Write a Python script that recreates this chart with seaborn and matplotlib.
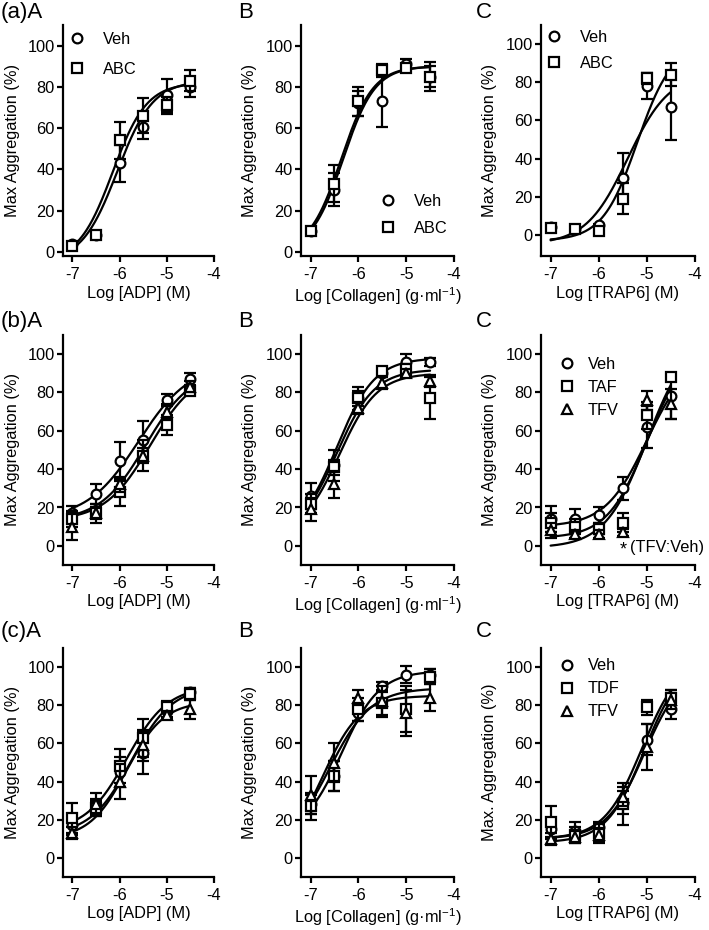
import numpy as np
import pandas as pd
import matplotlib
matplotlib.use("Agg")
import matplotlib.pyplot as plt
import seaborn as sns
from matplotlib.lines import Line2D

sns.set_theme(style="ticks")
plt.rcParams['font.family'] = ['Liberation Sans', 'DejaVu Sans']
plt.rcParams['axes.unicode_minus'] = False
plt.rcParams['mathtext.fontset'] = 'custom'
plt.rcParams['mathtext.rm'] = 'Liberation Sans'
plt.rcParams['mathtext.it'] = 'Liberation Sans'
plt.rcParams['text.color'] = 'black'
plt.rcParams['axes.labelcolor'] = 'black'
plt.rcParams['xtick.color'] = 'black'
plt.rcParams['ytick.color'] = 'black'

# ---------------- data ----------------
log_conc = [-7, -6.5, -6, -5.5, -5, -4.5]
x_ticks = [-7, -6, -5, -4]
y_ticks = [0, 20, 40, 60, 80, 100]

# fit parameters: (bottom, top, logEC50, hill)
# Row (a)
aA_veh = [4, 8, 43, 60.5, 76, 80];     aA_veh_err = [1, 1, 9, 6, 8, 5]
aA_abc = [3, 8, 54, 66, 71, 83];       aA_abc_err = [1, 1, 9, 8.5, 4, 5]
aA_fit_veh = (-5, 83, -6.05, 1.15);    aA_fit_abc = (-5, 82, -6.15, 1.2)

aB_veh = [10, 30, 72, 73, 91, 85];     aB_veh_err = [1, 8, 6, 12.5, 2.5, 5]
aB_abc = [10, 33, 73, 88, 89, 85];     aB_abc_err = [1, 9, 7, 3, 2, 7]
aB_fit_veh = (0, 90, -6.32, 1.3);      aB_fit_abc = (0, 90, -6.36, 1.3)

aC_veh = [4, 3, 5, 30, 78, 67];        aC_veh_err = [1, 1, 1, 13, 7, 17]
aC_abc = [3.5, 3, 2, 19, 82, 84];      aC_abc_err = [1, 1, 1, 8, 3, 6]
aC_fit_veh = (-5, 85, -5.4, 1.0);      aC_fit_abc = (-3, 100, -5.2, 1.2)

# Row (b)
bA_veh = [17, 27, 44, 55, 76, 87];     bA_veh_err = [4, 5, 10, 10, 3, 3]
bA_taf = [14, 17, 28, 47, 63, 81];     bA_taf_err = [4, 5, 7, 8, 5, 2]
bA_tfv = [10, 17, 32, 47, 70, 83];     bA_tfv_err = [7, 3, 4, 4, 4, 3]
bA_fit_veh = (14, 95, -5.6, 0.8)
bA_fit_taf = (13, 92, -5.35, 0.9)
bA_fit_tfv = (13, 92, -5.45, 0.9)

bB_veh = [26, 42, 77, 90, 96, 96];     bB_veh_err = [7, 8, 6, 2, 4, 2]
bB_taf = [22, 41, 77, 91, 92, 77];     bB_taf_err = [5, 4, 4, 2, 3, 11]
bB_tfv = [19, 32, 72, 85, 90, 86];     bB_tfv_err = [6, 7, 3, 3, 2, 3]
bB_fit_veh = (5, 98, -6.45, 1.1)
bB_fit_taf = (5, 92, -6.45, 1.1)
bB_fit_tfv = (5, 90, -6.4, 1.1)

bC_veh = [14, 14, 16, 30, 62, 78];     bC_veh_err = [7, 5, 4, 6, 11, 12]
bC_taf = [12, 10, 9, 12, 68, 88];      bC_taf_err = [5, 4, 3, 5, 7, 2]
bC_tfv = [8, 6, 6, 7, 76, 74];         bC_tfv_err = [4, 2, 2, 2, 5, 8]
bC_fit_veh = (10, 100, -5.0, 1.0)
bC_fit_taf = (4, 105, -5.0, 1.05)
bC_fit_tfv = (-1, 111, -5.0, 1.0)

# Row (c)
cA_veh = [17, 27, 45, 55, 77, 87];     cA_veh_err = [5, 4, 8, 11, 3, 2]
cA_tdf = [21, 26, 48, 63, 79, 86];     cA_tdf_err = [8, 4, 9, 10, 3, 3]
cA_tfv = [13, 28, 40, 59, 75, 78];     cA_tfv_err = [3, 6, 9, 8, 2, 5]
cA_fit_veh = (12, 90, -5.75, 1.0)
cA_fit_tdf = (14, 90, -5.85, 1.0)
cA_fit_tfv = (10, 82, -5.85, 1.1)

cB_veh = [28, 43, 76, 90, 96, 96];     cB_veh_err = [5, 8, 4, 2, 4.5, 3]
cB_tdf = [27, 43, 78, 81, 78, 95];     cB_tdf_err = [7, 8, 6, 6, 12, 4]
cB_tfv = [33, 50, 84, 82, 76, 84];     cB_tfv_err = [10, 10, 4, 8, 12, 7]
cB_fit_veh = (12, 98, -6.35, 1.1)
cB_fit_tdf = (5, 89, -6.6, 1.0)
cB_fit_tfv = (0, 85, -6.75, 1.1)

cC_veh = [15, 14, 16, 29, 62, 78];     cC_veh_err = [5, 5, 3, 6, 8, 5]
cC_tdf = [19, 12, 13, 28, 79, 84];     cC_tdf_err = [8, 4, 5, 11, 4, 4]
cC_tfv = [10, 11, 12, 32, 58, 83];     cC_tfv_err = [3, 3, 3, 5, 12, 5]
cC_fit_veh = (10, 100, -5.05, 1.1)
cC_fit_tdf = (10, 105, -5.1, 1.1)
cC_fit_tfv = (8, 105, -5.05, 1.1)

xlabels = ["Log [ADP] (M)", "Log [Collagen] (g\u00b7ml$^{-1}$)", "Log [TRAP6] (M)"]

# ---------------- layout ----------------
W, H = 709, 930
FS = 11.8
fig = plt.figure(figsize=(W / 100, H / 100), dpi=100)
col_l = [63, 301, 541]
col_r = [214, 454, 695]
row_t = [25, 335, 648]
row_b = [256, 565, 877]

markers = ['o', 's', '^']
msizes = [7, 6.6, 7.2]


def add_ax(r, c):
    l, rr, t, b = col_l[c], col_r[c], row_t[r], row_b[r]
    return fig.add_axes([l / W, 1 - b / H, (rr - l) / W, (b - t) / H])


def curve_df(fits, names):
    xs = np.linspace(-7, -4.5, 200)
    rows = []
    for (bot, top, ec, hill), nm in zip(fits, names):
        ys = bot + (top - bot) / (1 + 10 ** ((ec - xs) * hill))
        rows.append(pd.DataFrame({'x': xs, 'y': ys, 'series': nm}))
    return pd.concat(rows, ignore_index=True)


def draw_panel(ax, means, errs, fits, names, ylim, xlabel, ylabel):
    df = curve_df(fits, names)
    sns.lineplot(data=df, x='x', y='y', units='series', estimator=None,
                 color='black', lw=1.6, ax=ax, legend=False, zorder=2)
    for i, (m, e) in enumerate(zip(means, errs)):
        ax.errorbar(log_conc, m, yerr=e, fmt=markers[i], mfc='white',
                    mec='black', ms=msizes[i], mew=1.6, ecolor='black',
                    elinewidth=1.6, capsize=4, capthick=1.6, zorder=3 + i)
    ax.set_xlim(-7.2, -4.0)
    ax.set_ylim(*ylim)
    ax.set_xticks(x_ticks)
    ax.set_xticklabels([str(t) for t in x_ticks])
    ax.set_yticks(y_ticks)
    ax.set_yticklabels([str(t) for t in y_ticks])
    sns.despine(ax=ax)
    for s in ['left', 'bottom']:
        ax.spines[s].set_linewidth(1.6)
        ax.spines[s].set_color('black')
    ax.tick_params(axis='both', length=4, width=1.6, colors='black',
                   labelsize=FS, direction='out')
    ax.tick_params(axis='y', pad=2)
    ax.tick_params(axis='x', pad=4)
    ax.set_xlabel(xlabel, fontsize=FS, color='black')
    ax.set_ylabel(ylabel, fontsize=FS, color='black')
    ax.xaxis.set_label_coords(0.5, -0.128)
    ax.yaxis.set_label_coords(-0.285, 0.5)
    ax.set_facecolor('white')


def add_legend(ax, names, anchor, spacing, pad):
    handles = [Line2D([], [], marker=markers[i], ls='none', mfc='white',
                      mec='black', ms=msizes[i], mew=1.6, color='black')
               for i in range(len(names))]
    ax.legend(handles, names, loc='upper left', bbox_to_anchor=anchor,
              frameon=False, fontsize=FS, handlelength=1.0,
              handletextpad=pad, labelspacing=spacing, borderpad=0,
              borderaxespad=0, labelcolor='black')


ylab = "Max Aggregation (%)"

# Row a
ax = add_ax(0, 0)
draw_panel(ax, [aA_veh, aA_abc], [aA_veh_err, aA_abc_err],
           [aA_fit_veh, aA_fit_abc], ['Veh', 'ABC'], (-2, 110), xlabels[0], ylab)
add_legend(ax, ['Veh', 'ABC'], (0.04, 0.97), 0.93, 1.06)

ax = add_ax(0, 1)
draw_panel(ax, [aB_veh, aB_abc], [aB_veh_err, aB_abc_err],
           [aB_fit_veh, aB_fit_abc], ['Veh', 'ABC'], (-2, 110), xlabels[1], ylab)
add_legend(ax, ['Veh', 'ABC'], (0.516, 0.27), 0.75, 1.06)

ax = add_ax(0, 2)
draw_panel(ax, [aC_veh, aC_abc], [aC_veh_err, aC_abc_err],
           [aC_fit_veh, aC_fit_abc], ['Veh', 'ABC'], (-11, 110), xlabels[2], ylab)
add_legend(ax, ['Veh', 'ABC'], (0.032, 0.98), 0.68, 1.06)

# Row b
ax = add_ax(1, 0)
draw_panel(ax, [bA_veh, bA_taf, bA_tfv], [bA_veh_err, bA_taf_err, bA_tfv_err],
           [bA_fit_veh, bA_fit_taf, bA_fit_tfv], ['Veh', 'TAF', 'TFV'],
           (-10, 110), xlabels[0], ylab)

ax = add_ax(1, 1)
draw_panel(ax, [bB_veh, bB_taf, bB_tfv], [bB_veh_err, bB_taf_err, bB_tfv_err],
           [bB_fit_veh, bB_fit_taf, bB_fit_tfv], ['Veh', 'TAF', 'TFV'],
           (-10, 110), xlabels[1], ylab)

ax = add_ax(1, 2)
draw_panel(ax, [bC_veh, bC_taf, bC_tfv], [bC_veh_err, bC_taf_err, bC_tfv_err],
           [bC_fit_veh, bC_fit_taf, bC_fit_tfv], ['Veh', 'TAF', 'TFV'],
           (-10, 110), xlabels[2], ylab)
add_legend(ax, ['Veh', 'TAF', 'TFV'], (0.117, 0.905), 0.49, 0.75)
ax.text(-5.5, -2, "*", fontsize=13, ha='center', va='center', color='black')
ax.text(-5.36, -1, "(TFV:Veh)", fontsize=FS, ha='left', va='center',
        color='black', clip_on=False)

# Row c
ax = add_ax(2, 0)
draw_panel(ax, [cA_veh, cA_tdf, cA_tfv], [cA_veh_err, cA_tdf_err, cA_tfv_err],
           [cA_fit_veh, cA_fit_tdf, cA_fit_tfv], ['Veh', 'TDF', 'TFV'],
           (-10, 110), xlabels[0], ylab)

ax = add_ax(2, 1)
draw_panel(ax, [cB_veh, cB_tdf, cB_tfv], [cB_veh_err, cB_tdf_err, cB_tfv_err],
           [cB_fit_veh, cB_fit_tdf, cB_fit_tfv], ['Veh', 'TDF', 'TFV'],
           (-10, 110), xlabels[1], ylab)

ax = add_ax(2, 2)
draw_panel(ax, [cC_veh, cC_tdf, cC_tfv], [cC_veh_err, cC_tdf_err, cC_tfv_err],
           [cC_fit_veh, cC_fit_tdf, cC_fit_tfv], ['Veh', 'TDF', 'TFV'],
           (-10, 110), xlabels[2], "Max. Aggregation (%)")
add_legend(ax, ['Veh', 'TDF', 'TFV'], (0.117, 0.955), 0.49, 0.75)

# panel labels
panel_labels = [("(a)A", 1, 2), ("B", 238, 2), ("C", 476, 2),
                ("(b)A", 1, 311), ("B", 238, 311), ("C", 476, 311),
                ("(c)A", 1, 621), ("B", 238, 621), ("C", 476, 621)]
for txt, px, py in panel_labels:
    fig.text(px / W, 1 - py / H, txt, fontsize=16, ha='left', va='top',
             color='black')

fig.savefig("out.png", dpi=100, facecolor='white')
